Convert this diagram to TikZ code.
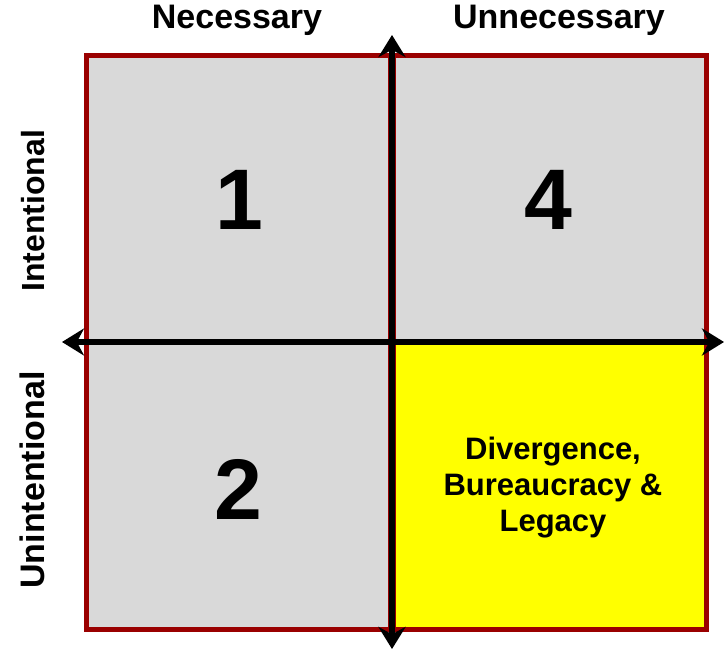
\documentclass[tikz,border=0pt]{standalone}
\usepackage{fontspec}
\setmainfont{Liberation Sans}
\usetikzlibrary{arrows.meta}
\definecolor{cellgray}{HTML}{D9D9D9}
\definecolor{cellred}{HTML}{9A0000}
\definecolor{cellyellow}{HTML}{FFFF00}
\begin{document}
\begin{tikzpicture}[x=1pt,y=-1pt,
  cell/.style={draw=cellred,line width=5pt,fill=cellgray,inner sep=0pt,minimum width=304pt,minimum height=286pt},
  rcell/.style={cell,minimum width=313pt},
  hdr/.style={font=\fontsize{34}{40}\selectfont\bfseries,inner sep=0pt},
  big/.style={font=\fontsize{86}{90}\selectfont\bfseries,inner sep=0pt},
  axis/.style={line width=6.5pt,{Stealth[length=22pt,width=27pt]}-{Stealth[length=22pt,width=27pt]}}]
\useasboundingbox (0,0) rectangle (724,650);
\node[cell] (tl) at (238,199) {};
\node[cell,minimum height=287pt] (bl) at (238,485.5) {};
\node[rcell] (tr) at (549.5,199) {};
\node[rcell,fill=cellyellow,minimum height=287pt] (br) at (549.5,485.5) {};
\node[big] (n1) at (239,200) {1};
\node[big] (n4) at (548,200) {4};
\node[big] (n2) at (238,489) {2};
\node[font=\fontsize{31}{36}\selectfont\bfseries,align=center,inner sep=0pt] (dbl) at (553,488) {Divergence,\\Bureaucracy \&\\Legacy};
\node[hdr,anchor=base] (nec) at (237,29) {Necessary};
\node[hdr,anchor=base] (unn) at (559,29) {Unnecessary};
\node[hdr,font=\fontsize{32}{40}\selectfont\bfseries,anchor=base,rotate=90] (int) at (45,211) {Intentional};
\node[hdr,anchor=base,rotate=90] (unint) at (45,480) {Unintentional};
\coordinate (vt) at (392,35);
\coordinate (vb) at (392,649);
\coordinate (hl) at (62,342);
\coordinate (hr) at (724,342);
\draw[axis] (vt) -- (vb);
\draw[axis] (hl) -- (hr);
\end{tikzpicture}
\end{document}
